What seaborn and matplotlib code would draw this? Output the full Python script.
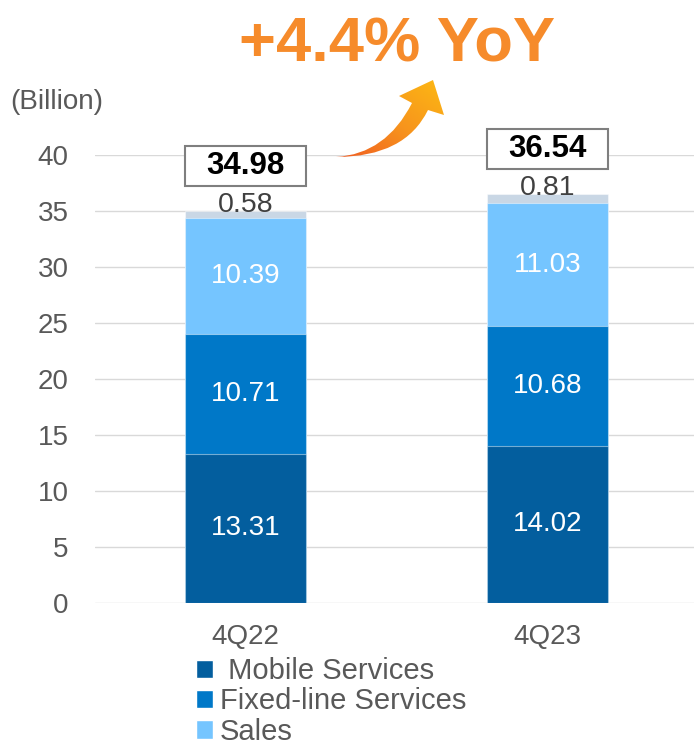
import numpy as np
import pandas as pd
import matplotlib.pyplot as plt
import seaborn as sns
from matplotlib.path import Path
from matplotlib.patches import PathPatch, Rectangle, Patch

# data (billion)
quarters = ["4Q22", "4Q23"]
mobile = [13.31, 14.02]
fixed_line = [10.71, 10.68]
sales = [10.39, 11.03]
other = [0.58, 0.81]
totals = [34.98, 36.54]
growth_label = "+4.4% YoY"

segments = ["Mobile Services", "Fixed-line Services", "Sales", "Other"]
seg_values = [mobile, fixed_line, sales, other]
seg_colors = ["#035E9E", "#0078C8", "#75C5FF", "#C9D7E5"]

GRAY = "#595959"
ORANGE = "#F68B2B"

sns.set_theme(style="white")
plt.rcParams["font.family"] = ["Liberation Sans", "DejaVu Sans"]

fig = plt.figure(figsize=(6.94, 7.45), dpi=100)
ax = fig.add_axes([0.1369, 0.1906, 0.8631, 0.6013])

# cumulative tops, drawn tallest first so the stack shows through
cum = np.cumsum(np.array(seg_values), axis=0)
for i in range(len(segments) - 1, -1, -1):
    df = pd.DataFrame({"quarter": quarters, "value": cum[i]})
    sns.barplot(data=df, x="quarter", y="value", color=seg_colors[i],
                saturation=1, width=0.4, ax=ax,
                edgecolor=(1, 1, 1, 0.45), linewidth=0.8, zorder=3)

ax.set_ylim(0, 40)
ax.set_xlim(-0.498, 1.485)
ax.set_yticks(range(0, 41, 5))
ax.yaxis.grid(True, color="#D9D9D9", linewidth=1.0, zorder=0)
ax.set_axisbelow(True)
for s in ax.spines.values():
    s.set_visible(False)
ax.set_xlabel("")
ax.set_ylabel("")
ax.tick_params(axis="y", labelsize=20, labelcolor=GRAY, length=0, pad=19)
ax.tick_params(axis="x", labelsize=20, labelcolor=GRAY, length=0, pad=15)

# segment labels
for j in range(len(quarters)):
    for i in range(3):
        mid = cum[i][j] - seg_values[i][j] / 2
        ax.text(j, mid, f"{seg_values[i][j]:.2f}", ha="center", va="center",
                color="white", fontsize=20, zorder=5)
    ax.text(j, cum[3][j] + 0.55, f"{other[j]:.2f}", ha="center", va="center",
            color="#404040", fontsize=20.5, zorder=5)
    # total in a box
    ax.add_patch(Rectangle((j - 0.2, totals[j] + 2.25), 0.4, 3.57,
                           facecolor="white", edgecolor="#7F7F7F",
                           linewidth=1.5, clip_on=False, zorder=6))
    ax.text(j, totals[j] + 4.04, f"{totals[j]:.2f}", ha="center", va="center",
            color="black", fontsize=22.5, fontweight="bold", zorder=7,
            clip_on=False)

# unit label and headline
fig.text(10 / 694, 1 - 102 / 745, "(Billion)", ha="left", va="center",
         fontsize=20, color=GRAY)
fig.text(397 / 694, 1 - 61 / 745, growth_label, ha="center", va="baseline",
         fontsize=45.5, fontweight="bold", color=ORANGE)

# curved gradient arrow, in pixel coordinates of an overlay axes
ov = fig.add_axes([0, 0, 1, 1], facecolor="none")
ov.set_xlim(0, 694)
ov.set_ylim(745, 0)
ov.axis("off")
verts = [(336, 157), (405, 157), (428, 110), (444, 115), (433, 80),
         (399, 96), (412, 103), (386, 154), (336, 157)]
codes = [Path.MOVETO, Path.CURVE3, Path.CURVE3, Path.LINETO, Path.LINETO,
         Path.LINETO, Path.LINETO, Path.CURVE3, Path.CURVE3]
arrow = PathPatch(Path(verts, codes), facecolor="none", edgecolor="none")
ov.add_patch(arrow)
gx, gy = np.meshgrid(np.linspace(0, 1, 120), np.linspace(0, 1, 90))
grad = (gx + (1 - gy)) / 2
cmap = sns.blend_palette(["#F05A22", "#F7941D", "#FDBA13"], as_cmap=True)
img = ov.imshow(grad, extent=(336, 446, 160, 78), cmap=cmap, aspect="auto",
                origin="upper", zorder=4)
img.set_clip_path(arrow)

# legend
handles = [Patch(facecolor=c) for c in seg_colors[:3]]
labels = [" Mobile Services", "Fixed-line Services", "Sales"]
fig.legend(handles, labels, loc="upper left", bbox_to_anchor=(0.282, 0.118),
           frameon=False, fontsize=21, labelcolor=GRAY,
           handlelength=0.58, handleheight=0.58, handletextpad=0.25,
           labelspacing=0.08, borderpad=0, borderaxespad=0)

fig.savefig("out.png", dpi=100, facecolor="white")
